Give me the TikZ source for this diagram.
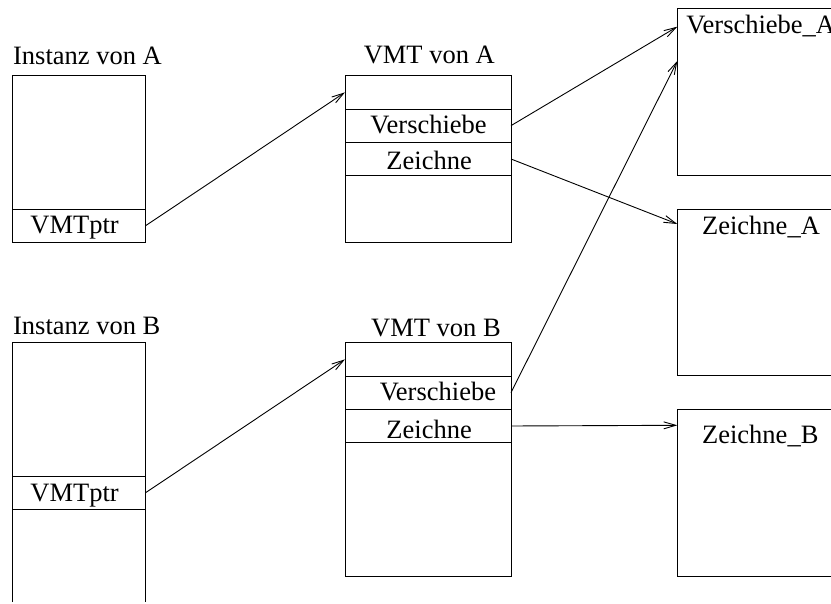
\documentclass[tikz,border=0pt]{standalone}
\usepackage{fontspec}
\setmainfont{Liberation Serif}
\usetikzlibrary{arrows.meta,calc}
\begin{document}
\begin{tikzpicture}[x=1pt,y=-1pt,
  line width=0.9pt,
  cellbox/.style={draw, line width=0.9pt, inner sep=0pt, outer sep=0pt, anchor=north west, minimum width=#1},
  lbl/.style={inner sep=0pt, anchor=base west, font=\fontsize{26.5}{30}\selectfont},
  conn/.style={-{Straight Barb[length=12pt,width=7pt,line width=0.9pt]}, line width=0.9pt}
]
\useasboundingbox (0,0) rectangle (831,604);
\clip (0,0) rectangle (831,604);

% Instanz von A
\node[cellbox=133pt, minimum height=166.6pt] (ia) at (12.7,75.7) {};
\node[cellbox=133pt, minimum height=33.3pt] (iaptr) at (12.7,209) {};
\node[lbl] (tia) at (12.7,65) {Instanz von A};
\node[lbl] (tiaptr) at (30,233.3) {VMTptr};

% Instanz von B (open at the bottom)
\draw (12.7,602) -- (12.7,342.7) -- (145.7,342.7) -- (145.7,602);
\node[cellbox=133pt, minimum height=33.3pt] (ibptr) at (12.7,476) {};
\node[lbl] (tib) at (12.7,335) {Instanz von B};
\node[lbl] (tibptr) at (30,501) {VMTptr};

% VMT von A
\node[cellbox=166pt, minimum height=166.6pt] (vmta) at (345,75.7) {};
\node[cellbox=166pt, minimum height=33.3pt] (vatop) at (345,75.7) {};
\node[cellbox=166pt, minimum height=33.3pt] (vaV) at (345,109) {};
\node[cellbox=166pt, minimum height=33.4pt] (vaZ) at (345,142.3) {};
\node[lbl] (tvmta) at (363.3,63.3) {VMT von A};
\node[lbl] (tvaV) at (370,133.3) {Verschiebe};
\node[lbl] (tvaZ) at (386,170) {Zeichne};

% VMT von B
\node[cellbox=166pt, minimum height=233.3pt] (vmtb) at (345,342.7) {};
\node[cellbox=166pt, minimum height=33.3pt] (vbtop) at (345,342.7) {};
\node[cellbox=166pt, minimum height=33.3pt] (vbV) at (345,376) {};
\node[cellbox=166pt, minimum height=33.4pt] (vbZ) at (345,409.3) {};
\node[lbl] (tvmtb) at (370.7,336.7) {VMT von B};
\node[lbl] (tvbV) at (379.3,400.7) {Verschiebe};
\node[lbl] (tvbZ) at (386,438.3) {Zeichne};

% Method boxes (cut off at the right edge)
\node[cellbox=180pt, minimum height=166.7pt] (fva) at (677.3,8.3) {};
\node[cellbox=180pt, minimum height=166.7pt] (fza) at (677.3,209) {};
\node[cellbox=180pt, minimum height=166.7pt] (fzb) at (677.3,409.3) {};
\node[lbl] (tfva) at (686,33.3) {Verschiebe\_A};
\node[lbl] (tfza) at (701.7,235) {Zeichne\_A};
\node[lbl] (tfzb) at (701.7,443.3) {Zeichne\_B};

\coordinate (fvain1) at ($(fva.north west)+(0,18.4)$);
\coordinate (fvain2) at ($(fva.north west)+(0,52.7)$);
\coordinate (fzain) at ($(fza.north west)+(0,15)$);
\coordinate (fzbin) at ($(fzb.north west)+(0,16)$);

% connectors
\draw[conn] (iaptr.east) -- (vatop.west);
\draw[conn] (ibptr.east) -- (vbtop.west);
\draw[conn] (vaV.east) -- (fvain1);
\draw[conn] (vaZ.east) -- (fzain);
\draw[conn] (vbV.east) -- (fvain2);
\draw[conn] (vbZ.east) -- (fzbin);
\end{tikzpicture}
\end{document}
